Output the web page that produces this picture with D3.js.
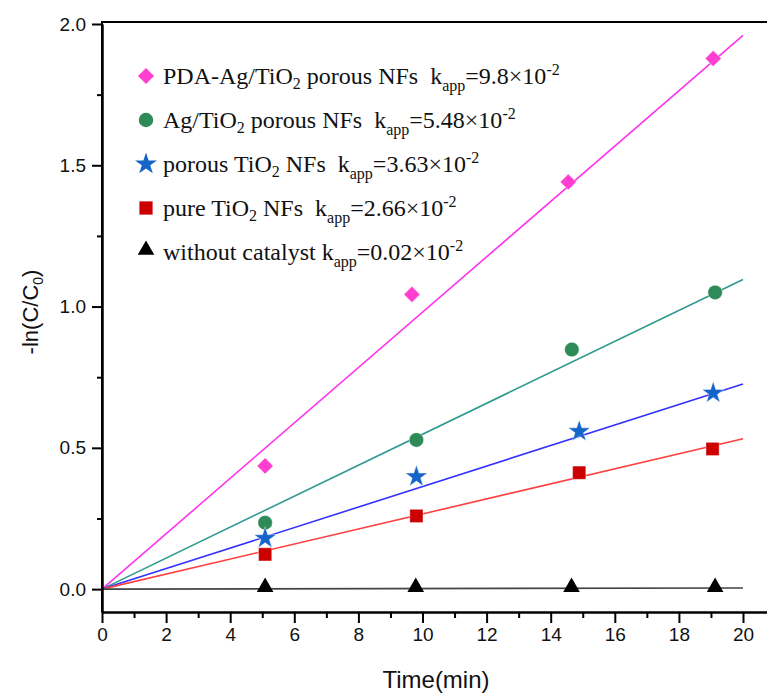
<!DOCTYPE html>
<html>
<head>
<meta charset="utf-8">
<script src="https://cdn.jsdelivr.net/npm/d3@7"></script>
<style>
  body { margin: 0; background: #fff; }
  svg { display: block; }
  .tick text { font-family: "Liberation Sans", Arial, sans-serif; }
  .legend text { font-family: "Liberation Serif", "Times New Roman", serif; white-space: pre; }
</style>
</head>
<body>
<div id="chart"></div>
<script>
var W = 767, H = 697;

// time of each sample (min) per series
var timesPDA = [5.09, 9.67, 14.55, 19.07];
var timesAg = [5.09, 9.81, 14.66, 19.13];
var timesPorous = [5.09, 9.81, 14.89, 19.07];
var timesPure = [5.09, 9.81, 14.89, 19.05];
var timesNone = [5.09, 9.79, 14.65, 19.13];

// -ln(C/C0) values
var valsPDA = [0.436, 1.043, 1.441, 1.878];
var valsAg = [0.235, 0.528, 0.848, 1.05];
var valsPorous = [0.18, 0.398, 0.558, 0.694];
var valsPure = [0.123, 0.259, 0.412, 0.496];
var valsNone = [0, 0, 0, 0];

// fitted rate constants (x10^-2)
var kapp = [9.8, 5.48, 3.63, 2.66, 0.02];
var kappText = ["9.8", "5.48", "3.63", "2.66", "0.02"];

// legend label pieces: [text, subscript, text]
var labels = [
  ["PDA-Ag/TiO", "2", " porous NFs  k"],
  ["Ag/TiO", "2", " porous NFs  k"],
  ["porous TiO", "2", " NFs  k"],
  ["pure TiO", "2", " NFs  k"],
  ["without catalyst k", null, ""]
];

var xTicks = [0, 2, 4, 6, 8, 10, 12, 14, 16, 18, 20];
var xMinor = [1, 3, 5, 7, 9, 11, 13, 15, 17, 19, 21];
var yTicks = [0, 0.5, 1.0, 1.5, 2.0];
var yMinor = [0.25, 0.75, 1.25, 1.75];

var series = [
  {t: timesPDA, v: valsPDA, sym: "diamond", fill: "#ff3fcf", line: "#ff33ee"},
  {t: timesAg, v: valsAg, sym: "circle", fill: "#2e8b57", line: "#2f9a8e"},
  {t: timesPorous, v: valsPorous, sym: "star", fill: "#1565c8", line: "#3333ff"},
  {t: timesPure, v: valsPure, sym: "square", fill: "#cc0000", line: "#ff4040"},
  {t: timesNone, v: valsNone, sym: "triangle", fill: "#000000", line: "#444444"}
];

var plotLeft = 102, plotTop = 24, plotBottom = 612;
var x = d3.scaleLinear().domain([0, 21.5]).range([plotLeft, plotLeft + 21.5 * 32.05]);
var y = d3.scaleLinear().domain([-0.081, 2.0]).range([plotBottom, plotTop]);

var svg = d3.select("#chart").append("svg")
  .attr("width", W).attr("height", H);

// data lines (fits through origin)
series.forEach(function(s, i) {
  svg.append("line")
    .attr("x1", x(0)).attr("y1", y(0))
    .attr("x2", x(20)).attr("y2", y(kapp[i] / 100 * 20))
    .attr("stroke", s.line)
    .attr("stroke-width", 1.6);
});

function symbolPath(sym) {
  if (sym == "diamond") return d3.symbol(d3.symbolSquare, 130)();
  if (sym == "circle") return d3.symbol(d3.symbolCircle, 165)();
  if (sym == "star") return d3.symbol(d3.symbolStar, 150)();
  if (sym == "square") return d3.symbol(d3.symbolSquare, 175)();
  return d3.symbol(d3.symbolTriangle, 120)();
}
function symbolTransform(sym, px, py) {
  if (sym == "diamond") return "translate(" + px + "," + py + ") rotate(45)";
  if (sym == "triangle") return "translate(" + px + "," + (py - 2) + ")";
  return "translate(" + px + "," + py + ")";
}

// markers
series.forEach(function(s) {
  svg.selectAll(null)
    .data(s.t.map(function(t, j) { return {t: t, v: s.v[j]}; }))
    .enter().append("path")
    .attr("d", symbolPath(s.sym))
    .attr("transform", function(d) { return symbolTransform(s.sym, x(d.t), y(d.v)); })
    .attr("fill", s.fill)
    .attr("stroke", s.sym == "triangle" ? "none" : "#fff")
    .attr("stroke-opacity", 0.5)
    .attr("stroke-width", 0.8);
});

// axes
svg.append("g")
  .attr("transform", "translate(0," + plotBottom + ")")
  .call(d3.axisBottom(x).tickValues(xTicks).tickSize(11).tickSizeOuter(0).tickPadding(5));
svg.append("g")
  .attr("transform", "translate(0," + plotBottom + ")")
  .call(d3.axisBottom(x).tickValues(xMinor).tickSize(6).tickFormat("").tickSizeOuter(0));

svg.append("g")
  .attr("transform", "translate(" + plotLeft + ",0)")
  .call(d3.axisLeft(y).tickValues(yTicks).tickSize(10).tickSizeOuter(0).tickPadding(6)
    .tickFormat(d3.format(".1f")));
svg.append("g")
  .attr("transform", "translate(" + plotLeft + ",0)")
  .call(d3.axisLeft(y).tickValues(yMinor).tickSize(5).tickFormat("").tickSizeOuter(0));

svg.selectAll(".domain").attr("stroke-width", 2).attr("stroke", "#000");
svg.selectAll(".tick line").attr("stroke-width", 2).attr("stroke", "#000");
svg.selectAll(".tick text").attr("font-size", 19).attr("fill", "#111");

// left axis line full height
svg.append("line")
  .attr("x1", plotLeft).attr("x2", plotLeft)
  .attr("y1", plotTop - 3).attr("y2", plotBottom)
  .attr("stroke", "#000").attr("stroke-width", 2);
// top frame
svg.append("line")
  .attr("x1", plotLeft).attr("x2", W)
  .attr("y1", plotTop - 2).attr("y2", plotTop - 2)
  .attr("stroke", "#000").attr("stroke-width", 2);

// axis titles
svg.append("text")
  .attr("x", 436).attr("y", 688)
  .attr("text-anchor", "middle")
  .attr("font-family", "Liberation Sans, Arial, sans-serif")
  .attr("font-size", 24)
  .attr("fill", "#111")
  .text("Time(min)");

var yt = svg.append("text")
  .attr("transform", "translate(38,312) rotate(-90)")
  .attr("text-anchor", "middle")
  .attr("font-family", "Liberation Sans, Arial, sans-serif")
  .attr("font-size", 22)
  .attr("fill", "#111");
yt.append("tspan").text("-ln(C/C");
yt.append("tspan").attr("font-size", 14).attr("dy", 5).text("0");
yt.append("tspan").attr("dy", -5).text(")");

// legend
var legend = svg.append("g").attr("class", "legend");
labels.forEach(function(lab, i) {
  var by = 84 + i * 44;
  var s = series[i];
  legend.append("path")
    .attr("d", symbolPath(s.sym))
    .attr("transform", symbolTransform(s.sym, 146, by - 8))
    .attr("fill", s.fill);
  var t = legend.append("text")
    .attr("x", 163).attr("y", by)
    .attr("font-size", 24)
    .attr("fill", "#111");
  t.append("tspan").text(lab[0]);
  if (lab[1]) {
    t.append("tspan").attr("font-size", 16).attr("dy", 5).text(lab[1]);
    t.append("tspan").attr("dy", -5).text(lab[2]);
  }
  t.append("tspan").attr("font-size", 16).attr("dy", 7).text("app");
  t.append("tspan").attr("dy", -7).text("=" + kappText[i] + "\u00d710");
  t.append("tspan").attr("font-size", 16).attr("dy", -9).text("-2");
});
</script>
</body>
</html>
